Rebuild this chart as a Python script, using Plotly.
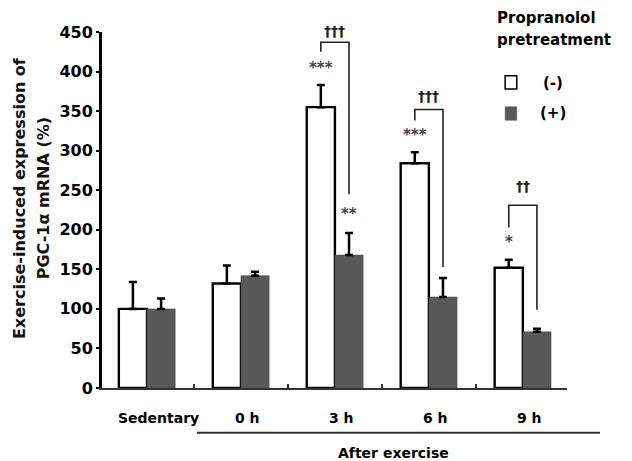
import plotly.graph_objects as go

# PGC-1α mRNA expression after exercise, with / without propranolol
groups = ["Sedentary", "0 h", "3 h", "6 h", "9 h"]
minus_vals = [100, 132, 355, 284, 152]
minus_err = [34, 23, 28, 14, 10]
plus_vals = [100, 142, 168, 115, 71]
plus_err = [13, 5, 28, 24, 4]

# significance vs sedentary (above bars) and -/+ comparison (brackets)
minus_stars = ["", "", "***", "***", "*"]
plus_stars = ["", "", "**", "", ""]
daggers = ["", "", "†††", "†††", "††"]

FONT = "DejaVu Sans"
BAR_W = 0.3
DARK = "#595959"
Y_MAX = 450

x = list(range(len(groups)))
fig = go.Figure()
fig.add_trace(go.Bar(
    x=x, y=minus_vals, width=BAR_W, offset=-BAR_W,
    marker=dict(color="white", line=dict(color="black", width=2.4)),
    error_y=dict(type="data", array=minus_err, arrayminus=[0] * 5, symmetric=False,
                 color="black", thickness=2.5, width=4),
    showlegend=False,
))
fig.add_trace(go.Bar(
    x=x, y=plus_vals, width=BAR_W, offset=0,
    marker=dict(color=DARK, line=dict(color="#444444", width=0.5)),
    error_y=dict(type="data", array=plus_err, arrayminus=[0] * 5, symmetric=False,
                 color="black", thickness=2.5, width=4),
    showlegend=False,
))

ann = []
shapes = []


def text(xv, yv, s, font, xref="paper", yref="paper", **kw):
    ann.append(dict(x=xv, y=yv, xref=xref, yref=yref, text=s, showarrow=False,
                    xanchor=kw.pop("xanchor", "center"), yanchor="middle",
                    font=font, **kw))


star_font = dict(family=FONT, size=15, color="#444444", weight="bold")
for i in x:
    wc, dc = i - BAR_W / 2, i + BAR_W / 2
    wtip = minus_vals[i] + minus_err[i]
    dtip = plus_vals[i] + plus_err[i]
    if minus_stars[i]:
        text(wc, wtip + 22, minus_stars[i], star_font, "x", "y")
    if plus_stars[i]:
        text(dc, dtip + 24, plus_stars[i], star_font, "x", "y")

# bracket geometry: (group, left-leg gap, top rise, right-leg gap, dagger rise)
brackets = [(2, 42, 12, 49, 14), (3, 40, 14, 14, 17), (4, 41, 28, 24, 24)]
for i, lgap, rise, rgap, drise in brackets:
    wc, dc = i - BAR_W / 2, i + BAR_W / 2
    left_bot = minus_vals[i] + minus_err[i] + lgap
    top = left_bot + rise
    right_bot = plus_vals[i] + plus_err[i] + rgap
    shapes.append(dict(type="path", xref="x", yref="y",
                       path=f"M {wc},{left_bot} L {wc},{top} L {dc},{top} L {dc},{right_bot}",
                       line=dict(color="#222222", width=1.6)))
    # paper y so the topmost daggers are not hidden above the axis range
    text(i, (top + drise) / Y_MAX, daggers[i],
         dict(family=FONT, size=14, color="#222222", weight="bold"), "x", "paper")

# category labels under the axis
label_font = dict(family=FONT, size=14, color="black", weight="bold")
for i, g in enumerate(groups):
    shift = 0.12 if i == 0 else 0.07
    text(i + shift, -0.084, g, label_font, "x", "paper")

# "After exercise" span
shapes.append(dict(type="line", xref="paper", yref="paper", x0=0.204, x1=1.071,
                   y0=-0.126, y1=-0.126, line=dict(color="#333333", width=2)))
text(0.626, -0.183, "After exercise", label_font)

# y-axis title (two lines)
title_font = dict(family=FONT, size=16, color="#111111", weight="bold")
text(-0.176, 0.534, "Exercise-induced expression of", title_font, textangle=-90)
text(-0.124, 0.534, "PGC-1α mRNA (%)", title_font, textangle=-90)

# legend drawn by hand
leg_font = dict(family=FONT, size=15, color="black", weight="bold")
text(0.845, 1.039, "Propranolol", leg_font, xanchor="left")
text(0.845, 0.978, "pretreatment", leg_font, xanchor="left")
shapes.append(dict(type="rect", xref="paper", yref="paper", x0=0.867, x1=0.892,
                   y0=0.84, y1=0.877, line=dict(color="black", width=1.5), fillcolor="white"))
shapes.append(dict(type="rect", xref="paper", yref="paper", x0=0.867, x1=0.892,
                   y0=0.752, y1=0.79, line=dict(color=DARK, width=0.5), fillcolor=DARK))
text(0.97, 0.856, "(-)", leg_font)
text(0.97, 0.772, "(+)", leg_font)

fig.update_layout(
    width=632, height=461,
    margin=dict(l=102, r=65, t=32, b=73),
    paper_bgcolor="white", plot_bgcolor="white",
    annotations=ann, shapes=shapes,
    barmode="overlay",
    xaxis=dict(range=[-0.479, 4.47], showgrid=False, zeroline=False,
               showline=True, linecolor="#333333", linewidth=2,
               tickvals=[0.5, 1.5, 2.5, 3.5], ticktext=[""] * 4,
               ticks="inside", ticklen=4, tickwidth=2, tickcolor="#333333"),
    yaxis=dict(range=[0, Y_MAX], tickvals=list(range(0, Y_MAX + 1, 50)),
               showgrid=False, zeroline=False, showline=True,
               linecolor="black", linewidth=3, ticks="outside", ticklen=3,
               tickwidth=1.5, tickcolor="black",
               tickfont=dict(family=FONT, size=16, color="black", weight="bold")),
)

fig.write_html("out.html")
